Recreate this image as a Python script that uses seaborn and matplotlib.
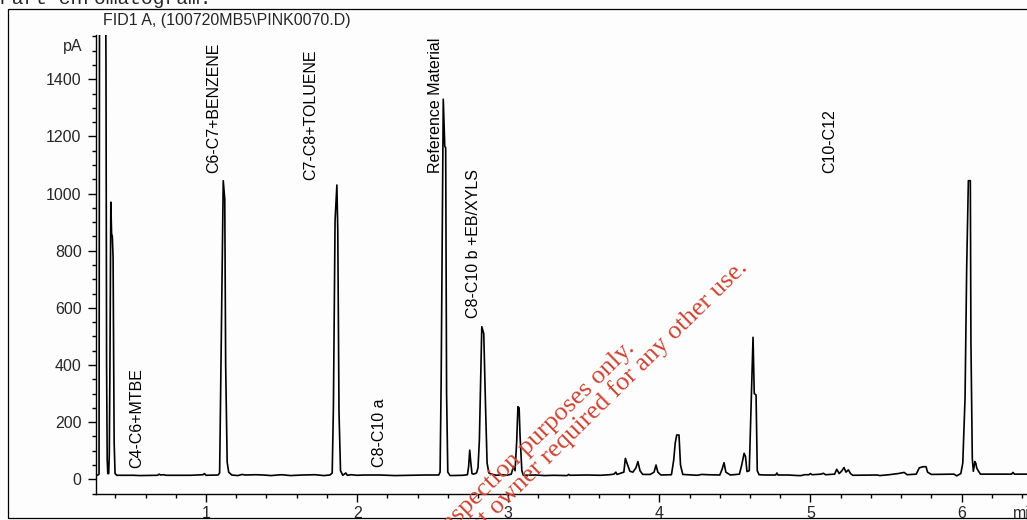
import matplotlib
matplotlib.use('Agg')
import matplotlib.pyplot as plt
import seaborn as sns
import pandas as pd
from matplotlib.ticker import MultipleLocator
from matplotlib.patches import Rectangle

# detector trace (time in min, signal in pA)
time_min = [0.269, 0.285, 0.292, 0.298, 0.325, 0.338, 0.342, 0.346, 0.350, 0.356, 0.360, 0.364, 0.370, 0.375,
            0.380, 0.385, 0.392, 0.398, 0.410, 0.520, 0.560, 0.680, 0.690, 0.700, 0.720, 0.735, 0.900, 0.940,
            0.980, 0.990, 1.000, 1.080, 1.090, 1.093, 1.108, 1.114, 1.124, 1.130, 1.140, 1.150, 1.170, 1.210,
            1.240, 1.260, 1.330, 1.380, 1.430, 1.500, 1.560, 1.640, 1.720, 1.780, 1.820, 1.835, 1.843, 1.854,
            1.866, 1.872, 1.880, 1.890, 1.905, 1.915, 1.925, 1.935, 1.960, 2.000, 2.050, 2.150, 2.250, 2.350,
            2.450, 2.540, 2.549, 2.556, 2.570, 2.580, 2.586, 2.592, 2.600, 2.615, 2.700, 2.730, 2.738, 2.745,
            2.752, 2.760, 2.770, 2.790, 2.800, 2.809, 2.825, 2.838, 2.850, 2.860, 2.872, 2.890, 2.920, 2.960,
            2.990, 3.020, 3.035, 3.045, 3.056, 3.064, 3.072, 3.078, 3.090, 3.100, 3.180, 3.240, 3.300, 3.390,
            3.400, 3.410, 3.520, 3.610, 3.670, 3.700, 3.712, 3.720, 3.765, 3.775, 3.790, 3.805, 3.825, 3.845,
            3.858, 3.872, 3.890, 3.940, 3.965, 3.978, 3.990, 4.010, 4.080, 4.095, 4.105, 4.115, 4.130, 4.140,
            4.155, 4.250, 4.280, 4.320, 4.400, 4.415, 4.428, 4.440, 4.470, 4.530, 4.545, 4.561, 4.570, 4.580,
            4.595, 4.608, 4.620, 4.628, 4.640, 4.648, 4.660, 4.700, 4.770, 4.778, 4.785, 4.850, 4.920, 4.940,
            4.960, 4.990, 5.000, 5.010, 5.070, 5.085, 5.100, 5.160, 5.174, 5.190, 5.205, 5.222, 5.235, 5.251,
            5.265, 5.280, 5.440, 5.460, 5.520, 5.580, 5.620, 5.640, 5.700, 5.720, 5.745, 5.765, 5.775, 5.800,
            5.950, 5.968, 5.995, 6.008, 6.023, 6.034, 6.045, 6.058, 6.062, 6.071, 6.078, 6.088, 6.095, 6.100,
            6.110, 6.125, 6.330, 6.340, 6.350, 6.440]
signal_pa = [14, 15, 18, 3000, 3000, 1450, 400, 70, 20, 20, 90, 380, 970, 860,
             850, 775, 130, 20, 14, 14, 13, 14, 18, 15, 16, 14, 14, 15,
             16, 20, 14, 15, 22, 145, 810, 1045, 980, 400, 60, 25, 15, 13,
             17, 15, 16, 15, 13, 16, 13, 15, 16, 13, 15, 22, 250, 905,
             1030, 870, 236, 30, 14, 18, 22, 14, 16, 14, 15, 15, 13, 14,
             15, 15, 25, 340, 1330, 1165, 1160, 300, 25, 13, 14, 16, 45, 102,
             60, 20, 18, 22, 40, 137, 534, 510, 250, 57, 22, 18, 14, 16,
             14, 18, 45, 30, 132, 254, 250, 155, 30, 14, 15, 13, 14, 13,
             17, 14, 15, 14, 16, 18, 25, 17, 25, 73, 50, 28, 25, 40,
             62, 30, 17, 17, 25, 50, 25, 15, 16, 67, 127, 155, 155, 50,
             17, 14, 17, 16, 15, 35, 58, 25, 15, 18, 50, 91, 80, 27,
             30, 267, 497, 300, 295, 30, 16, 15, 15, 22, 15, 15, 13, 13,
             16, 16, 20, 16, 18, 21, 16, 18, 35, 20, 28, 41, 25, 33,
             20, 14, 15, 13, 16, 20, 24, 16, 18, 40, 44, 44, 25, 17,
             18, 12, 20, 57, 284, 746, 1045, 1045, 478, 73, 28, 62, 55, 40,
             30, 18, 18, 24, 18, 18]

# peak group labels: text, retention time of label, signal level of label foot
label_text = ['C4-C6+MTBE', 'C6-C7+BENZENE', 'C7-C8+TOLUENE', 'C8-C10 a', 'Reference Material',
              'C8-C10 b +EB/XYLS', 'C10-C12']
label_time = [0.541, 1.051, 1.694, 2.146, 2.516, 2.769, 5.130]
label_foot = [38, 1073, 1048, 44, 1071, 563, 1071]

df = pd.DataFrame({'time': time_min, 'signal': signal_pa})

sns.set_theme(style='ticks')
plt.rcParams['font.family'] = ['Liberation Sans', 'DejaVu Sans']

fig = plt.figure(figsize=(10.27, 5.2), dpi=100)
fig.patch.set_facecolor('#fdfdfd')
ax = fig.add_axes([0.093, 0.05, 0.907, 0.8827])
ax.set_facecolor('#fdfdfd')

sns.lineplot(data=df, x='time', y='signal', ax=ax, color='black', lw=1.2, estimator=None, sort=False)

ax.set_xlim(0.2687, 6.433)
ax.set_ylim(-51.5, 1555)
ax.set_xlabel('')
ax.set_ylabel('')
ax.xaxis.set_major_locator(MultipleLocator(1))
ax.xaxis.set_minor_locator(MultipleLocator(0.2))
ax.yaxis.set_major_locator(MultipleLocator(200))
ax.yaxis.set_minor_locator(MultipleLocator(50))
ax.tick_params(which='major', direction='out', length=5.5, width=1, color='black', labelsize=11.5, pad=3)
ax.tick_params(which='minor', direction='out', length=3, width=1, color='black')
ax.tick_params(axis='y', which='major', pad=4.5)
for side in ['top', 'right']:
    ax.spines[side].set_visible(False)
for side in ['left', 'bottom']:
    ax.spines[side].set_linewidth(1)
    ax.spines[side].set_color('black')

for txt, t, foot in zip(label_text, label_time, label_foot):
    ax.text(t, foot, txt, rotation=90, ha='center', va='bottom', fontsize=11.5, color='black')

# header, units and frame
fig.text(227 / 1027, 1 - 21 / 520, 'FID1 A, (100720MB5\\PINK0070.D)', ha='center', va='center', fontsize=11.5)
fig.text(82 / 1027, 1 - 47 / 520, 'pA', ha='right', va='center', fontsize=11.5)
fig.text(1013 / 1027, 1 - 517.5 / 520, 'min', ha='left', va='baseline', fontsize=11.5)
fig.text(0.0, 1 - 4 / 520, 'Part chromatogram:', ha='left', va='baseline', fontsize=14, family='Liberation Mono')
fig.patches.append(Rectangle((8 / 1027, 2 / 520), 1.1, 509 / 520, transform=fig.transFigure,
                             fill=False, edgecolor='black', lw=0.9))

# watermark
fig.text(636 / 1027, 1 - 349 / 520, 'For inspection purposes only.', rotation=44.5, rotation_mode='anchor',
         ha='right', va='baseline', fontsize=19, color='#cc4433', family='Liberation Serif')
fig.text(749 / 1027, 1 - 269 / 520, 'Consent of copyright owner required for any other use.', rotation=44.5,
         rotation_mode='anchor', ha='right', va='baseline', fontsize=19, color='#cc4433', family='Liberation Serif')

fig.savefig('out.png', dpi=100, facecolor=fig.get_facecolor())
